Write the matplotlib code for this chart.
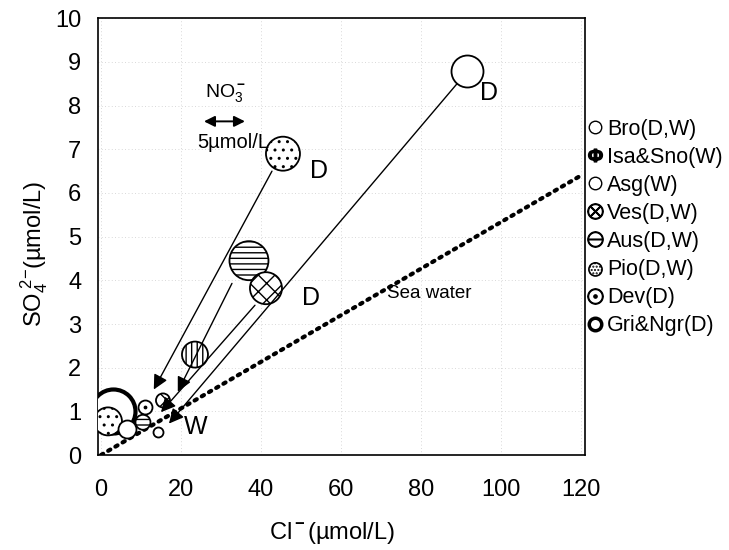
import numpy as np
import matplotlib
matplotlib.use('Agg')
from matplotlib import pyplot as plt
from matplotlib.lines import Line2D

plt.rcParams['font.family'] = ['Liberation Sans', 'DejaVu Sans']
plt.rcParams['mathtext.fontset'] = 'custom'
plt.rcParams['mathtext.rm'] = 'Liberation Sans'
plt.rcParams['mathtext.it'] = 'Liberation Sans:italic'
plt.rcParams['mathtext.bf'] = 'Liberation Sans:bold'

# bubbles: Cl-, SO4 2- (umol/L), bubble radius, sample group
bubble_cl = [3.0, 1.75, 91.5, 45.5, 37.0, 41.25, 23.5, 6.5, 10.5, 11.0, 15.5, 14.3]
bubble_so4 = [1.0, 0.77, 8.8, 6.9, 4.45, 3.82, 2.3, 0.6, 0.75, 1.1, 1.25, 0.52]
bubble_r = [22, 14, 16, 17, 19.5, 16, 13, 9, 7.5, 7, 7, 5]
bubble_grp = ['Gri', 'Pio', 'Bro', 'Pio', 'Aus', 'Ves', 'Isa', 'Bro', 'Aus', 'Dev', 'Ves', 'Asg']

# D -> W shift arrows
arrow_start_cl = [89.0, 42.75, 32.75, 38.5]
arrow_start_so4 = [8.5, 6.5, 3.93, 3.43]
arrow_end_cl = [17.0, 13.2, 19.2, 15.0]
arrow_end_so4 = [0.72, 1.5, 1.45, 0.98]

# sea water ratio line
seawater_cl = [0, 120]
seawater_so4 = [0, 6.4]

legend_labels = ['Bro(D,W)', 'Isa&Sno(W)', 'Asg(W)', 'Ves(D,W)',
                 'Aus(D,W)', 'Pio(D,W)', 'Dev(D)', 'Gri&Ngr(D)']

hatches = {'Bro': None, 'Isa': '|||', 'Asg': None, 'Ves': 'xx',
           'Aus': '---', 'Pio': '..', 'Dev': None, 'Gri': None}
widths = {'Gri': 3.0}

fig = plt.figure(figsize=(7.29, 5.5), dpi=100)
ax = fig.add_axes([0.1344, 0.1727, 0.668, 0.794])

ax.plot(seawater_cl, seawater_so4, color='black', linestyle=(0, (0.6, 1.4)),
        linewidth=3, dash_capstyle='round', zorder=2)

for x, y, r, g in zip(bubble_cl, bubble_so4, bubble_r, bubble_grp):
    s = (2 * r * 0.72) ** 2
    ax.scatter([x], [y], s=s, facecolor='white', edgecolor='black',
               linewidth=widths.get(g, 1.3), hatch=hatches[g], zorder=3)
    if g == 'Dev':
        ax.scatter([x], [y], s=3, color='black', zorder=4)

for x0, y0, x1, y1 in zip(arrow_start_cl, arrow_start_so4, arrow_end_cl, arrow_end_so4):
    ax.annotate('', xy=(x1, y1), xytext=(x0, y0),
                arrowprops=dict(arrowstyle='-|>', color='black', lw=1.0,
                                mutation_scale=22, shrinkA=0, shrinkB=0),
                zorder=5)

# NO3- scale arrow
ax.annotate('', xy=(36.0, 7.64), xytext=(25.75, 7.64),
            arrowprops=dict(arrowstyle='<|-|>', color='black', lw=1.4,
                            mutation_scale=16, shrinkA=0, shrinkB=0))
ax.text(31.25, 8.3, r'NO$_3^{\bf -}$', fontsize=14, ha='center', va='center')
ax.text(24.0, 7.16, '5µmol/L', fontsize=14.5, ha='left', va='center')

ax.text(97.0, 8.3, 'D', fontsize=18, ha='center', va='center')
ax.text(54.5, 6.5, 'D', fontsize=18, ha='center', va='center')
ax.text(52.5, 3.6, 'D', fontsize=18, ha='center', va='center')
ax.text(23.75, 0.64, 'W', fontsize=18, ha='center', va='center')
ax.text(82.0, 3.7, 'Sea water', fontsize=13.5, ha='center', va='center')

ax.set_xlim(-0.75, 121)
ax.set_ylim(0, 10)
ax.set_xticks(np.arange(0, 121, 20))
ax.set_yticks(np.arange(0, 11, 1))
ax.tick_params(axis='x', length=0, pad=17, labelsize=17)
ax.tick_params(axis='y', length=0, pad=12, labelsize=17)
ax.grid(True, color='0.8', linestyle=(0, (1, 3)), linewidth=0.6)
ax.set_axisbelow(True)
for sp in ax.spines.values():
    sp.set_linewidth(1.2)

ax.set_xlabel(r'Cl$^{\bf -}$(µmol/L)', fontsize=17, labelpad=14)
ax.set_ylabel(r'SO$_4^{\ 2\mathrm{-}}$(µmol/L)', fontsize=17, labelpad=4)
ax.xaxis.label.set_x(0.48)
ax.yaxis.label.set_y(0.46)

handles = [
    Line2D([], [], linestyle='none', marker='o', markersize=9, mfc='none', mec='black', mew=1),
    Line2D([], [], linestyle='none', marker=r'$\mathbf{\Phi}$', markersize=10, color='black'),
    Line2D([], [], linestyle='none', marker='o', markersize=9, mfc='none', mec='black', mew=1),
    Line2D([], [], linestyle='none', marker=r'$\otimes$', markersize=11, color='black'),
    Line2D([], [], linestyle='none', marker=r'$\ominus$', markersize=11, color='black'),
    ax.scatter([], [], s=90, facecolor='white', edgecolor='black', linewidth=1.2, hatch='.....'),
    Line2D([], [], linestyle='none', marker=r'$\odot$', markersize=11, color='black'),
    Line2D([], [], linestyle='none', marker='o', markersize=9, mfc='none', mec='black', mew=2.5),
]
fig.legend(handles, legend_labels, loc='upper left', bbox_to_anchor=(0.808, 0.7845),
           frameon=False, fontsize=15.5, handlelength=0.6, handletextpad=0.25,
           labelspacing=0.33, borderpad=0, borderaxespad=0)

fig.savefig('out.png', dpi=100)
